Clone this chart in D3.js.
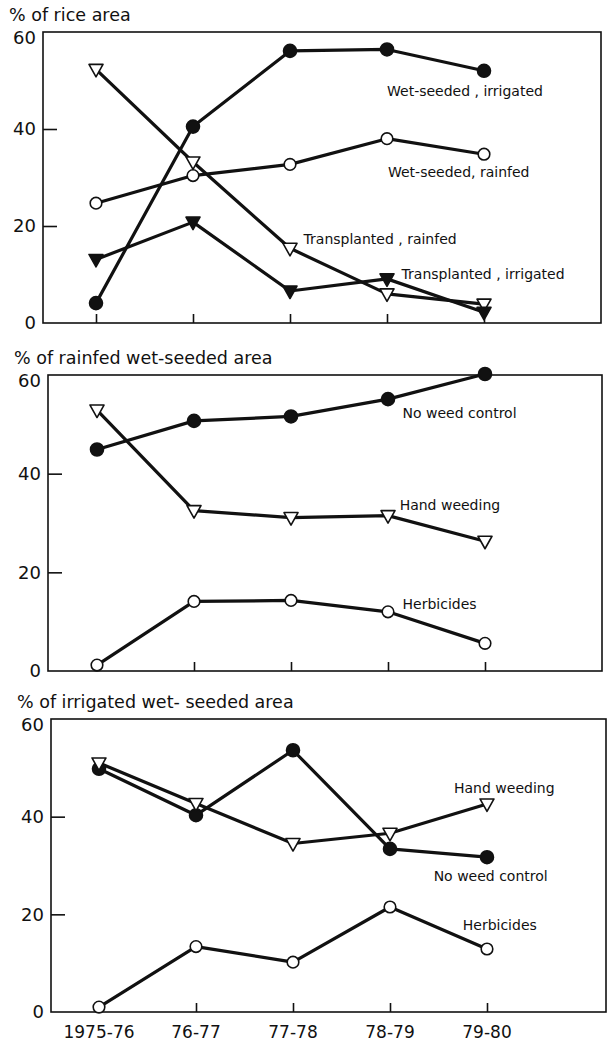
<!DOCTYPE html>
<meta charset="utf-8">

<style>
body{
	background-color: #fff;
	margin: 0px;
}
text{
	font-family: "DejaVu Sans", sans-serif;
	fill: #111;
}
</style>

<body></body>

<script src="https://cdnjs.cloudflare.com/ajax/libs/d3/7.8.5/d3.min.js"></script>

<script>

// categories
var years = ['1975-76', '76-77', '77-78', '78-79', '79-80']
var yTicks = [0, 20, 40, 60]

// panel 1 : % of rice area
var wsIrrigated = [4.1, 40.5, 56.1, 56.4, 52.0]
var wsRainfed   = [24.7, 30.4, 32.7, 38.0, 34.8]
var tpRainfed   = [52.3, 33.2, 15.4, 6.0, 3.9]
var tpIrrigated = [13.1, 20.8, 6.6, 9.1, 2.2]

// panel 2 : % of rainfed wet-seeded area
var rfNoWeed = [44.9, 50.7, 51.6, 55.1, 60.2]
var rfHand   = [52.9, 32.5, 31.1, 31.5, 26.3]
var rfHerb   = [1.2, 14.1, 14.3, 12.0, 5.6]

// panel 3 : % of irrigated wet-seeded area
var irNoWeed = [49.8, 40.3, 53.6, 33.4, 31.7]
var irHand   = [51.0, 42.7, 34.5, 36.6, 42.6]
var irHerb   = [1.0, 13.4, 10.2, 21.5, 12.9]


var width = 608, height = 1041

var svg = d3.select('body')
	.append('svg')
		.attr('width', width)
		.attr('height', height)

// label spot: at = fractional category index, v = baseline value
var panels = [
	{title: '% of rice area', left: 43, right: 601, x0: 96, top: 32, bottom: 323, xLabels: false,
		series: [
			{values: wsIrrigated, mark: 'dot',    label: 'Wet-seeded , irrigated',   at: 3.0,  v: 46.9},
			{values: wsRainfed,   mark: 'circle', label: 'Wet-seeded, rainfed',      at: 3.01, v: 30.1},
			{values: tpRainfed,   mark: 'tri',    label: 'Transplanted , rainfed',   at: 2.14, v: 16.2},
			{values: tpIrrigated, mark: 'ftri',   label: 'Transplanted , irrigated', at: 3.15, v: 9.0}
		]},
	{title: '% of rainfed wet-seeded area', left: 48, right: 602, x0: 97, top: 375, bottom: 671, xLabels: false,
		series: [
			{values: rfNoWeed, mark: 'dot',    label: 'No weed control', at: 3.15, v: 51.3},
			{values: rfHand,   mark: 'tri',    label: 'Hand weeding',    at: 3.12, v: 32.7},
			{values: rfHerb,   mark: 'circle', label: 'Herbicides',      at: 3.15, v: 12.5}
		]},
	{title: '% of irrigated wet- seeded area', left: 51, right: 606, x0: 99, top: 719, bottom: 1012, xLabels: true,
		series: [
			{values: irNoWeed, mark: 'dot',    label: 'No weed control', at: 3.45, v: 26.9},
			{values: irHand,   mark: 'tri',    label: 'Hand weeding',    at: 3.66, v: 44.8},
			{values: irHerb,   mark: 'circle', label: 'Herbicides',      at: 3.75, v: 16.8}
		]}
]

panels.forEach(drawPanel)


function drawPanel(p){
	var x = d3.scalePoint().domain(years).range([p.x0, p.x0 + 4*97])
	var y = d3.scaleLinear().domain([0, 60]).range([p.bottom, p.top])
	var step = x.step()

	var g = svg.append('g')

	g.append('text')
		.attr('x', p.left - 34)
		.attr('y', p.top - 11)
		.style('font-size', '17.5px')
		.text(p.title)

	// frame
	g.append('rect')
		.attr('x', p.left).attr('y', p.top)
		.attr('width', p.right - p.left).attr('height', p.bottom - p.top)
		.attr('fill', 'none').attr('stroke', '#111').attr('stroke-width', 1.6)

	// y axis, ticks pointing in
	var yAxis = d3.axisRight(y).tickValues(yTicks).tickSize(14).tickFormat('')
	g.append('g').attr('transform', 'translate(' + p.left + ',0)').call(yAxis)
		.call(function(a){
			a.select('.domain').remove()
			a.selectAll('.tick line').attr('stroke', '#111').attr('stroke-width', 1.6)
				.filter(function(d){ return d == 0 || d == 60 }).remove()
		})

	g.selectAll('.ylab').data(yTicks).enter().append('text')
		.attr('x', p.left - 7)
		.attr('y', function(d){ return Math.max(y(d), p.top + 6) })
		.attr('dy', '0.36em')
		.attr('text-anchor', 'end')
		.style('font-size', '18px')
		.text(function(d){ return d })

	// x axis, ticks pointing up
	var xAxis = d3.axisTop(x).tickSize(9).tickFormat('')
	g.append('g').attr('transform', 'translate(0,' + p.bottom + ')').call(xAxis)
		.call(function(a){
			a.select('.domain').remove()
			a.selectAll('.tick line').attr('stroke', '#111').attr('stroke-width', 1.6)
		})

	if(p.xLabels){
		g.selectAll('.xlab').data(years).enter().append('text')
			.attr('x', function(d){ return x(d) })
			.attr('y', p.bottom + 26)
			.attr('text-anchor', 'middle')
			.style('font-size', '17px')
			.text(function(d){ return d })
	}

	var line = d3.line()
		.x(function(d, i){ return x(years[i]) })
		.y(function(d){ return y(d) })

	p.series.forEach(function(s){
		g.append('path')
			.attr('d', line(s.values))
			.attr('fill', 'none')
			.attr('stroke', '#111')
			.attr('stroke-width', 3.2)
			.attr('stroke-linejoin', 'round')
	})

	p.series.forEach(function(s){
		var pts = g.selectAll(null).data(s.values).enter()
		if(s.mark == 'dot' || s.mark == 'circle'){
			pts.append('circle')
				.attr('cx', function(d, i){ return x(years[i]) })
				.attr('cy', function(d){ return y(d) })
				.attr('r', s.mark == 'dot' ? 6.5 : 5.8)
				.attr('fill', s.mark == 'dot' ? '#111' : '#fff')
				.attr('stroke', '#111')
				.attr('stroke-width', 1.6)
		} else {
			pts.append('path')
				.attr('transform', function(d, i){ return 'translate(' + x(years[i]) + ',' + y(d) + ')' })
				.attr('d', 'M-7,-5L7,-5L0,7.5Z')
				.attr('fill', s.mark == 'ftri' ? '#111' : '#fff')
				.attr('stroke', '#111')
				.attr('stroke-width', 1.6)
				.attr('stroke-linejoin', 'round')
		}

		g.append('text')
			.attr('x', x(years[0]) + s.at*step)
			.attr('y', y(s.v))
			.style('font-size', '14px')
			.text(s.label)
	})
}

</script>
